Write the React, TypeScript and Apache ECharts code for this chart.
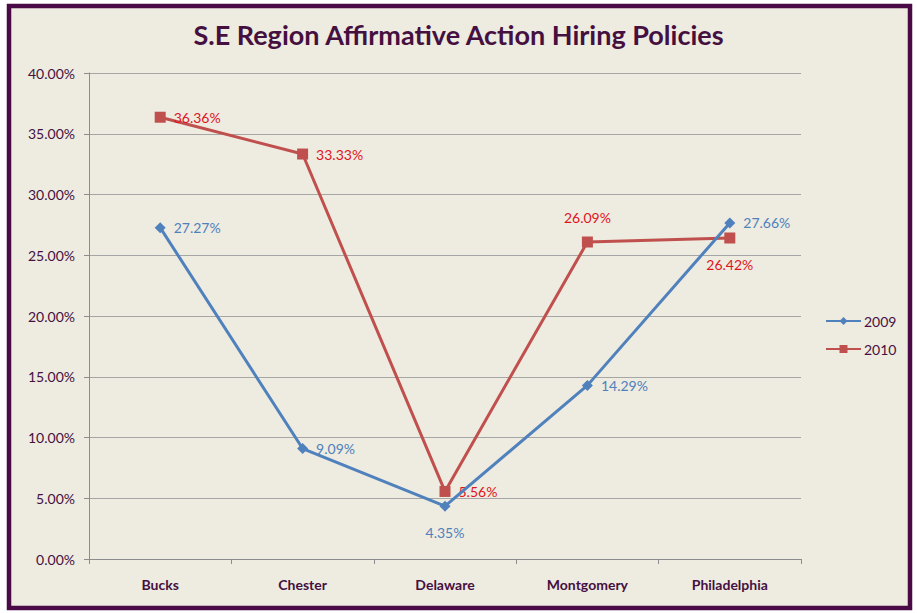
import React, { useEffect, useRef } from "react";
import * as echarts from "echarts";

const categories = ["Bucks", "Chester", "Delaware", "Montgomery", "Philadelphia"];
const values2009 = [27.27, 9.09, 4.35, 14.29, 27.66];
const values2010 = [36.36, 33.33, 5.56, 26.09, 26.42];
const labelPos2009 = ["right", "right", "bottom", "right", "right"];
const labelPos2010 = ["right", "right", "right", "top", "bottom"];

const FONT = "Lato, 'Open Sans', sans-serif";
const PURPLE = "#45103F";

export default function App() {
  const ref = useRef<HTMLDivElement>(null);
  useEffect(() => {
    if (!ref.current) return;
    const chart = echarts.init(ref.current, null, { renderer: "svg" });
    const mk = (vals: number[], pos: string[], labelColor: string) =>
      vals.map((v, i) => ({
        value: v,
        label: {
          show: true,
          position: pos[i],
          distance: pos[i] === "bottom" ? 14 : pos[i] === "top" ? 12 : 8,
          color: labelColor,
          fontFamily: FONT,
          fontSize: 14,
          formatter: (p: any) => p.value.toFixed(2) + "%",
        },
      }));
    chart.setOption({
      animation: false,
      backgroundColor: "#ffffff",
      textStyle: { fontFamily: FONT },
      graphic: [
        {
          type: "rect",
          z: -10,
          shape: { x: 9, y: 6, width: 901, height: 602 },
          style: { fill: "#EEEBE0", stroke: "#4A0A45", lineWidth: 4.5 },
          silent: true,
        },
      ],
      title: {
        text: "S.E Region Affirmative Action Hiring Policies",
        left: "center",
        top: 16,
        textStyle: { fontFamily: FONT, fontSize: 27, fontWeight: "bold", color: PURPLE },
      },
      legend: {
        orient: "vertical",
        left: 820,
        top: 309,
        itemWidth: 35,
        itemHeight: 10,
        itemGap: 14,
        textStyle: { color: PURPLE, fontSize: 14, fontFamily: FONT, padding: [0, 0, 0, -2] },
        data: ["2009", "2010"],
      },
      grid: { left: 89, right: 116, top: 73, bottom: 54, containLabel: false },
      xAxis: {
        type: "category",
        data: categories,
        boundaryGap: true,
        axisLine: { lineStyle: { color: "#8C8C8C", width: 1 } },
        axisTick: { show: true, length: 5, lineStyle: { color: "#8C8C8C" } },
        axisLabel: { color: PURPLE, fontWeight: "bold", fontSize: 14, margin: 18, fontFamily: FONT },
      },
      yAxis: {
        type: "value",
        min: 0,
        max: 40,
        interval: 5,
        axisLine: { show: true, lineStyle: { color: "#8C8C8C" } },
        axisTick: { show: true, length: 5, lineStyle: { color: "#8C8C8C" } },
        axisLabel: {
          color: PURPLE,
          fontSize: 14,
          margin: 14,
          fontFamily: FONT,
          formatter: (v: number) => v.toFixed(2) + "%",
        },
        splitLine: { lineStyle: { color: "#A6A6A6", width: 1 } },
      },
      series: [
        {
          name: "2009",
          type: "line",
          data: mk(values2009, labelPos2009, "#4F81BD"),
          symbol: "diamond",
          symbolSize: 11,
          lineStyle: { color: "#4F81BD", width: 3 },
          itemStyle: { color: "#4F81BD" },
          z: 3,
        },
        {
          name: "2010",
          type: "line",
          data: mk(values2010, labelPos2010, "#E0141E"),
          symbol: "rect",
          symbolSize: 11,
          lineStyle: { color: "#C0504D", width: 3 },
          itemStyle: { color: "#C0504D" },
          z: 2,
        },
      ],
    });
    return () => chart.dispose();
  }, []);
  return (
    <div
      ref={ref}
      style={{ position: "absolute", left: 0, top: 0, width: 917, height: 613 }}
    />
  );
}
